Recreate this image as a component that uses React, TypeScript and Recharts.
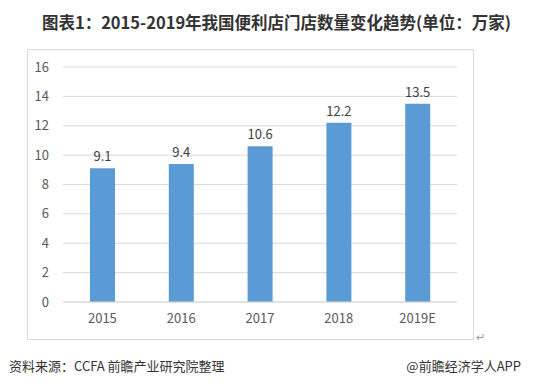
import { BarChart, Bar, XAxis, YAxis, CartesianGrid, LabelList } from "recharts";

const years = ["2015", "2016", "2017", "2018", "2019E"];
const storeCounts = [9.1, 9.4, 10.6, 12.2, 13.5];
const yTicks = [0, 2, 4, 6, 8, 10, 12, 14, 16];

const chartData = years.map((year, i) => ({ year, value: storeCounts[i] }));

const FONT = '"Microsoft YaHei", "Noto Sans CJK SC", sans-serif';

export default function App() {
  return (
    <div
      style={{
        position: "absolute",
        left: 0,
        top: 0,
        width: 553,
        height: 388,
        background: "#fff",
        fontFamily: FONT,
        overflow: "hidden",
      }}
    >
      <div
        style={{
          position: "absolute",
          top: 10,
          left: 0,
          width: 553,
          textAlign: "center",
          fontSize: 16.5,
          fontWeight: 700,
          color: "#333",
          lineHeight: "24px",
        }}
      >
        图表1：2015-2019年我国便利店门店数量变化趋势(单位：万家)
      </div>
      <div
        style={{
          position: "absolute",
          left: 27,
          top: 49,
          width: 445,
          height: 289,
          border: "1px solid #d9d9d9",
        }}
      >
        <BarChart
          width={445}
          height={289}
          data={chartData}
          margin={{ top: 17, right: 16, left: 0, bottom: 7 }}
        >
          <CartesianGrid vertical={false} stroke="#d9d9d9" />
          <XAxis
            dataKey="year"
            height={30}
            axisLine={{ stroke: "#d9d9d9" }}
            tickLine={false}
            tickSize={0}
            tickMargin={12}
            tick={{ fill: "#595959", fontSize: 13, fontFamily: FONT }}
          />
          <YAxis
            width={35}
            domain={[0, 16]}
            ticks={yTicks}
            axisLine={false}
            tickLine={false}
            tickSize={0}
            tickMargin={14}
            tick={{ fill: "#595959", fontSize: 13, fontFamily: FONT }}
          />
          <Bar dataKey="value" fill="#5b9bd5" barSize={25} isAnimationActive={false}>
            <LabelList
              dataKey="value"
              position="top"
              offset={7}
              fill="#404040"
              fontSize={13}
              fontFamily={FONT}
            />
          </Bar>
        </BarChart>
      </div>
      <div
        style={{ position: "absolute", left: 476, top: 328, fontSize: 11, color: "#999" }}
      >
        ↵
      </div>
      <div
        style={{
          position: "absolute",
          left: 9,
          top: 357,
          fontSize: 13,
          color: "#333",
          lineHeight: "18px",
        }}
      >
        资料来源：CCFA 前瞻产业研究院整理
      </div>
      <div
        style={{
          position: "absolute",
          right: 32,
          top: 357,
          fontSize: 13,
          color: "#333",
          lineHeight: "18px",
        }}
      >
        @前瞻经济学人APP
      </div>
    </div>
  );
}
